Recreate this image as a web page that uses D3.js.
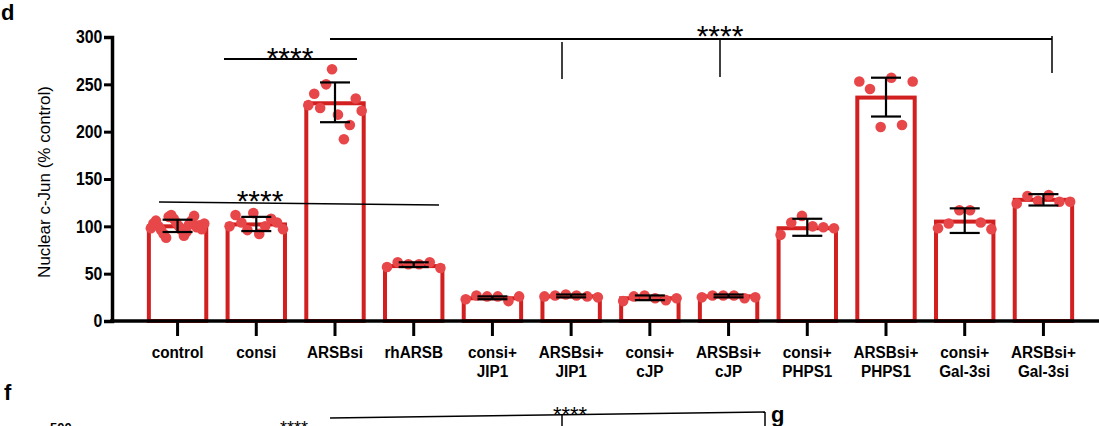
<!DOCTYPE html><html><head><meta charset="utf-8">
<script src="https://cdn.jsdelivr.net/npm/d3@7"></script>
<style>body{margin:0;background:#fff}text{font-family:"Liberation Sans",Arial,sans-serif}</style></head><body>
<svg id="c" width="1099" height="426"></svg>
<script>
const categories=[["control"],["consi"],["ARSBsi"],["rhARSB"],["consi+","JIP1"],["ARSBsi+","JIP1"],["consi+","cJP"],["ARSBsi+","cJP"],["consi+","PHPS1"],["ARSBsi+","PHPS1"],["consi+","Gal-3si"],["ARSBsi+","Gal-3si"]];
const means=[100,102,230,58,24,26,24,26,98,236,105,128];
const errLow=[94,95,210,57,23,25,22,25,90,216,93,122];
const errHigh=[107,110,252,62,26,28,27,28,108,257,119,134];
const points=[
[98,103,106,100,96,92,88,110,112,108,104,100,96,90,94,102,106,111,99,101,97,103],
[100,112,104,96,114,92,100,108,104,97],
[228,240,225,250,266,218,192,207,235,222],
[57,62,60,60,62,56],
[23,27,26,26,21,26],
[26,27,28,27,26,25],
[21,26,27,24,22,24],
[25,27,27,27,24,25],
[91,104,111,100,99,98],
[253,245,205,257,207,253],
[98,103,117,117,104,97],
[124,132,127,133,126,126]];
const yTicks=[0,50,100,150,200,250,300];
const svg=d3.select("#c");
const x=d3.scaleBand().domain(d3.range(12)).range([139,1082]).paddingInner(0.22).paddingOuter(0.1);
const y=d3.scaleLinear().domain([0,300]).range([321,37]);
const red="#d21f1f",dot="#e8474a";
svg.selectAll(".bar").data(means).join("rect").attr("x",(d,i)=>x(i)+2).attr("width",x.bandwidth()-4)
 .attr("y",d=>y(d)).attr("height",d=>y(0)-y(d)).attr("fill","#fff").attr("stroke",red).attr("stroke-width",4);
points.forEach((arr,i)=>{const n=arr.length,w=x.bandwidth()-8;
 svg.selectAll(null).data(arr).join("circle").attr("cx",(d,j)=>x(i)+4+(n>1?w*j/(n-1):w/2)).attr("cy",d=>y(d)).attr("r",5.3).attr("fill",dot);});
const cx=i=>x(i)+x.bandwidth()/2;
means.forEach((m,i)=>{const g=svg.append("g").attr("stroke","#000").attr("stroke-width",2.2);
 g.append("line").attr("x1",cx(i)).attr("x2",cx(i)).attr("y1",y(errLow[i])).attr("y2",y(errHigh[i]));
 [errLow[i],errHigh[i]].forEach(v=>g.append("line").attr("x1",cx(i)-15).attr("x2",cx(i)+15).attr("y1",y(v)).attr("y2",y(v)));});
const ya=svg.append("g").attr("transform","translate(112,0)").call(d3.axisLeft(y).tickValues(yTicks).tickSize(8).tickPadding(3));
ya.select(".domain").attr("stroke-width",3.5);ya.selectAll(".tick line").attr("stroke-width",3);
ya.selectAll("text").attr("font-size",18).attr("font-weight","bold").attr("fill","#000").attr("transform","scale(0.88,1)");
const xa=svg.append("g").attr("transform","translate(0,321)").call(d3.axisBottom(x).tickSize(15).tickFormat(""));
xa.select(".domain").attr("d","M110,0H1099").attr("stroke-width",3.5);xa.selectAll(".tick line").attr("stroke-width",3);
categories.forEach((c,i)=>c.forEach((t,k)=>svg.append("text").attr("transform",`translate(${cx(i)},${358+k*19}) scale(0.9,1)`).attr("text-anchor","middle").attr("font-size",17).attr("font-weight","bold").attr("fill","#000").text(t)));
svg.append("text").attr("transform","translate(50,182) rotate(-90)").attr("text-anchor","middle").attr("font-size",17).text("Nuclear c-Jun (% control)");
svg.append("text").attr("x",1).attr("y",20).attr("font-size",22).attr("font-weight","bold").text("d");
const ln=(x1,y1,x2,y2,w)=>svg.append("line").attr("x1",x1).attr("y1",y1).attr("x2",x2).attr("y2",y2).attr("stroke","#000").attr("stroke-width",w||1.8);
const st=(xx,yy,s)=>svg.append("text").attr("x",xx).attr("y",yy).attr("text-anchor","middle").attr("font-size",s||30).text("****");
ln(224,59,357,59,2.2);st(290,68);
ln(330,39,1052,39,2.2);ln(562,42,562,79,1.5);ln(720,40,720,77,1.5);ln(1052,36,1052,73,1.5);st(720,46);
ln(159,202,439,205,1.5);st(260,211);
svg.append("text").attr("x",4).attr("y",400).attr("font-size",22).attr("font-weight","bold").text("f");
svg.append("text").attr("x",771).attr("y",422).attr("font-size",22).attr("font-weight","bold").text("g");
ln(330,418,765,412,1.5);ln(562,415,562,430,1.5);ln(765,412,765,430,1.5);st(570,422,22);
st(294,434,18);svg.append("text").attr("x",50).attr("y",432).attr("font-size",13).attr("font-weight","bold").text("500");
</script></body></html>
